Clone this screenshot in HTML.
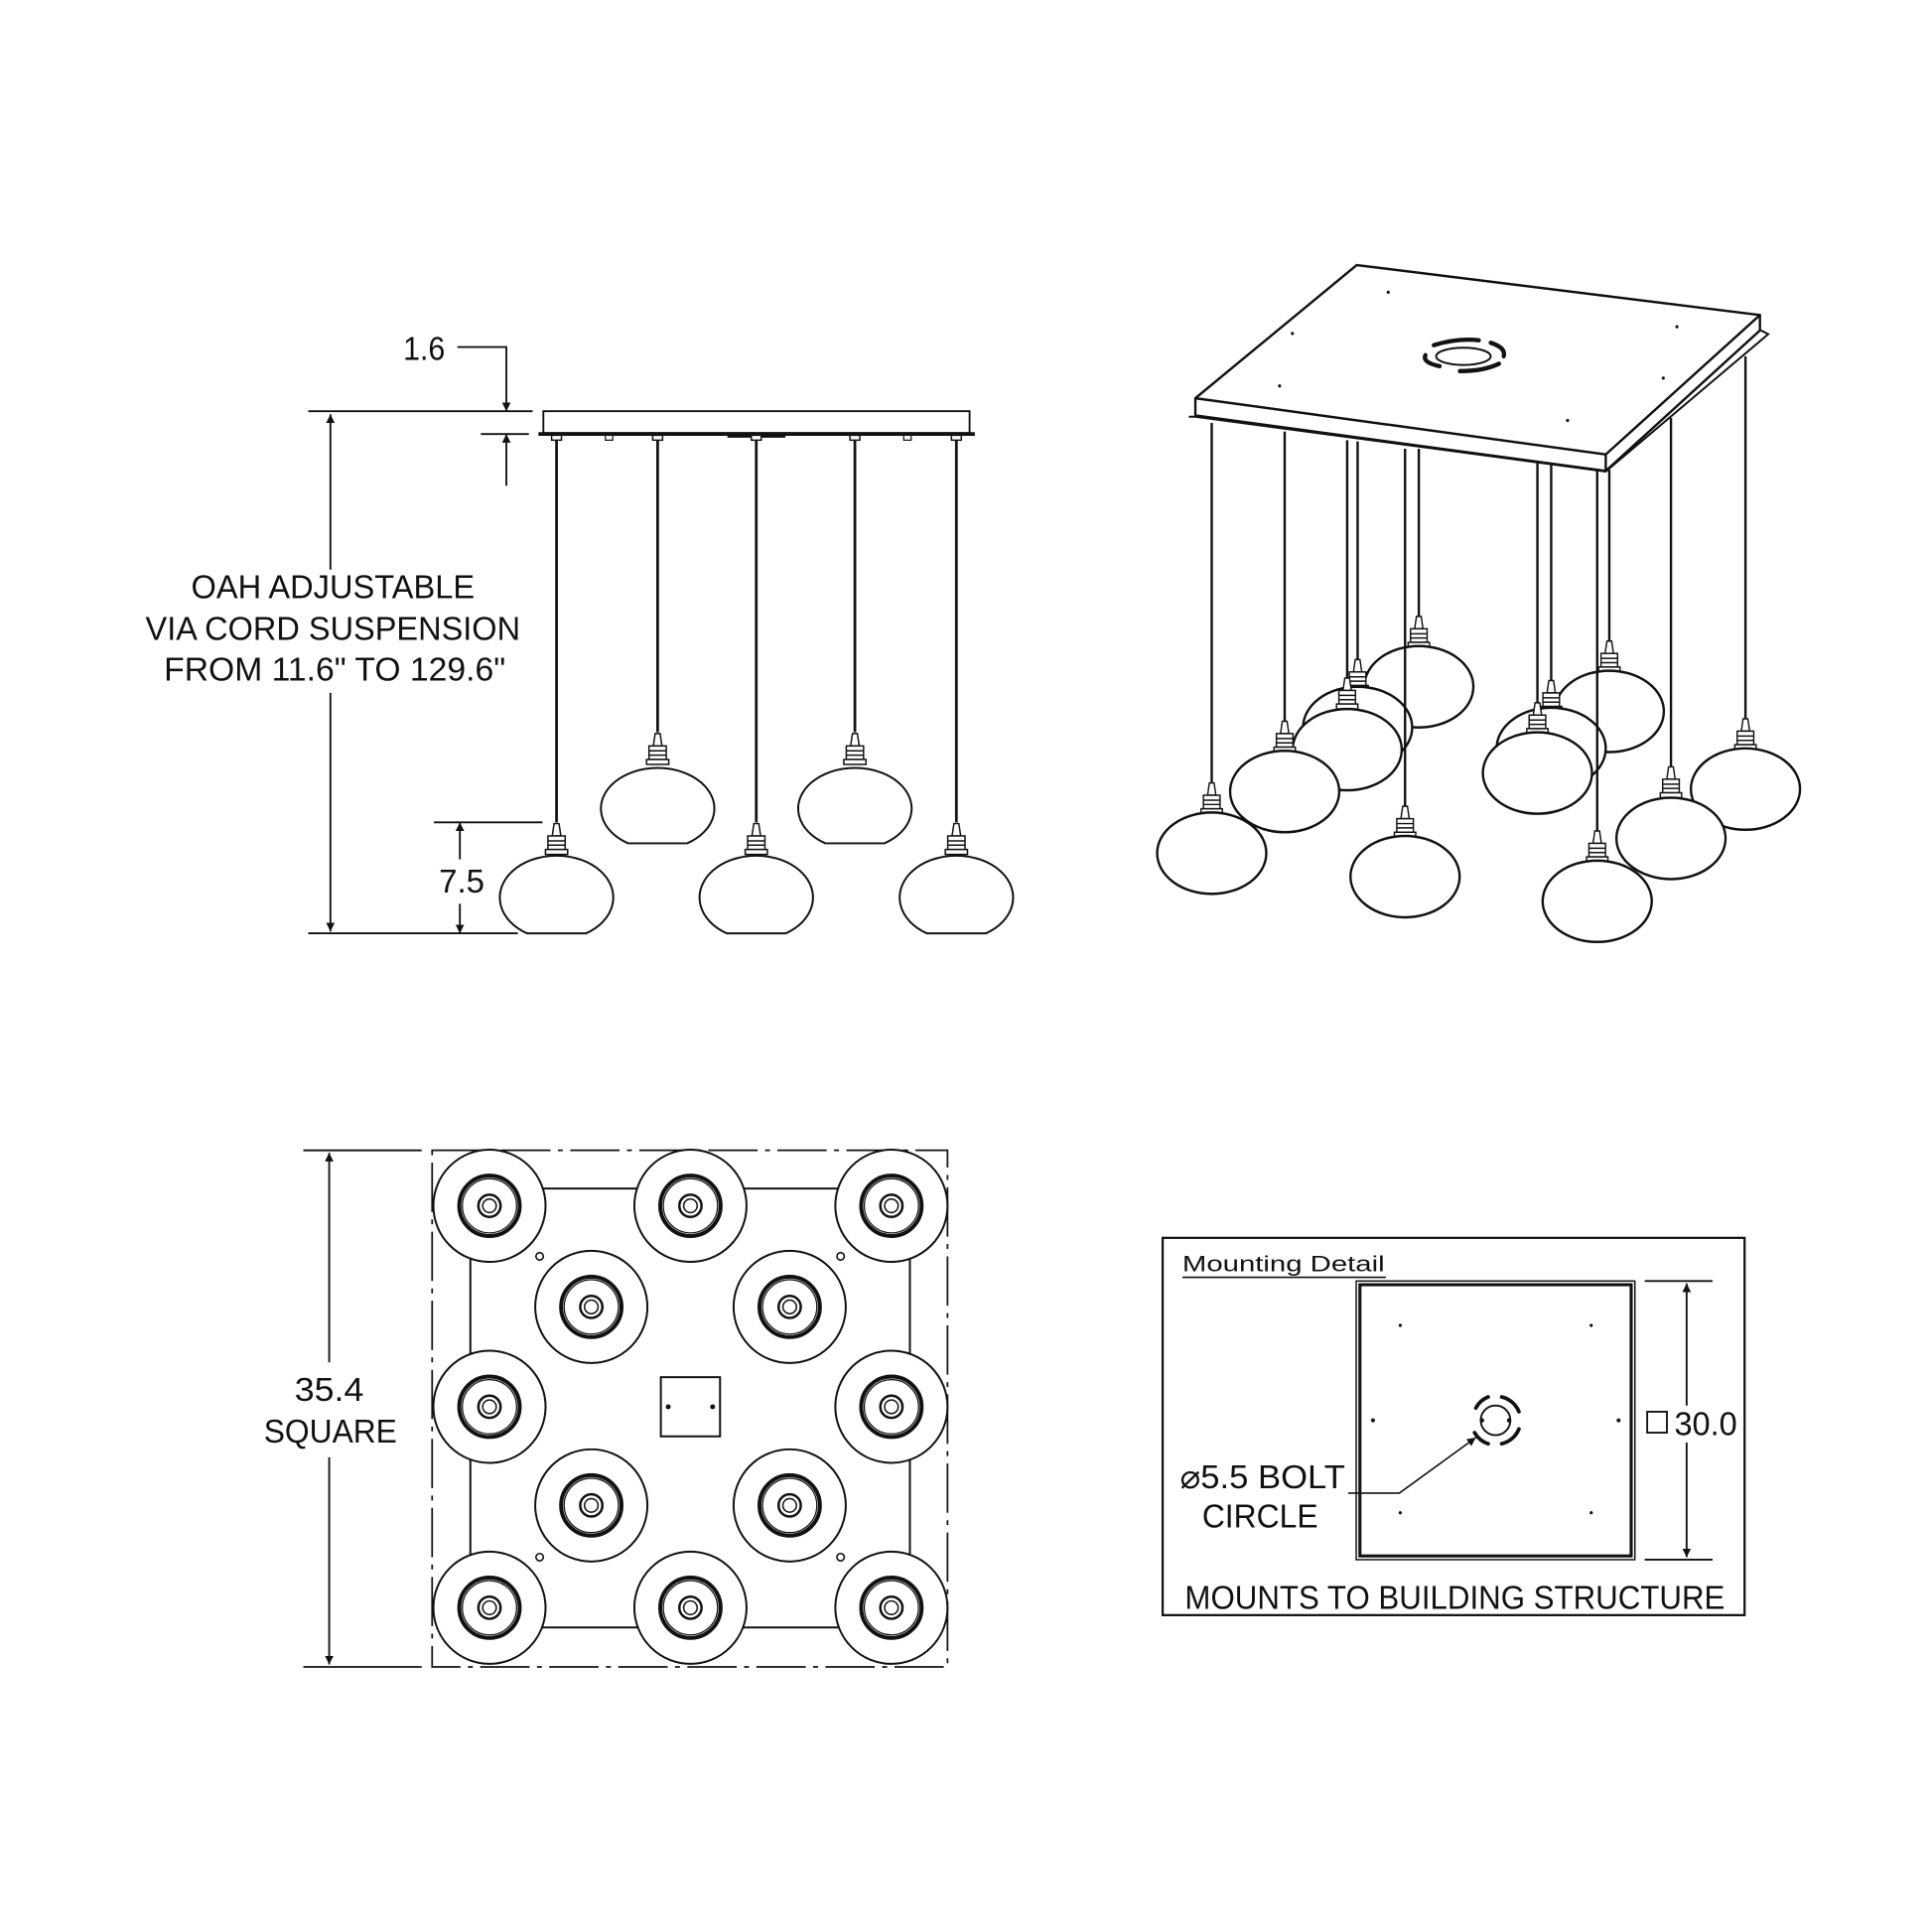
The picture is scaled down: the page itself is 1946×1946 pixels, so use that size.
<!DOCTYPE html>
<html><head><meta charset="utf-8"><style>html,body{margin:0;padding:0;background:#fff}svg{display:block}</style></head>
<body>
<svg width="1946" height="1946" viewBox="0 0 1567 1567" xmlns="http://www.w3.org/2000/svg" font-family="'Liberation Sans', sans-serif" fill="none" stroke="#111" stroke-width="1.5">
<defs>
<g id="sk" stroke="#111" stroke-width="1.2" fill="#fff">
<path d="M-2,0 L2,0 L3.5,10 L-3.5,10Z"/>
<rect x="-7" y="10" width="14" height="11"/>
<line x1="-7" y1="14" x2="7" y2="14"/><line x1="-7" y1="17.5" x2="7" y2="17.5"/>
<rect x="-9" y="21" width="18" height="4"/>
</g>
<marker id="ah" viewBox="0 0 10 10" refX="10" refY="5" markerWidth="7" markerHeight="14" orient="auto-start-reverse" markerUnits="userSpaceOnUse"><path d="M0,0 L10,5 L0,10Z" fill="#111" stroke="none"/></marker>
</defs>
<rect x="0" y="0" width="1567" height="1567" fill="#fff" stroke="none"/>

<!-- ===== Side view ===== -->
<g font-size="27" fill="#111" stroke="none">
<text x="327" y="292" textLength="34" lengthAdjust="spacingAndGlyphs">1.6</text>
<text x="155" y="485" textLength="230" lengthAdjust="spacingAndGlyphs">OAH ADJUSTABLE</text>
<text x="118" y="519" textLength="304" lengthAdjust="spacingAndGlyphs">VIA CORD SUSPENSION</text>
<text x="133" y="552" textLength="277" lengthAdjust="spacingAndGlyphs">FROM 11.6" TO 129.6"</text>
<text x="356" y="724" textLength="37" lengthAdjust="spacingAndGlyphs">7.5</text>
</g>
<polyline points="371,281.5 410.7,281.5 410.7,333.5" marker-end="url(#ah)"/>
<line x1="410.7" y1="394" x2="410.7" y2="352" marker-end="url(#ah)"/>
<line x1="250" y1="333.5" x2="432" y2="333.5"/>
<line x1="390" y1="352" x2="429" y2="352"/>
<line x1="268" y1="336" x2="268" y2="462" marker-start="url(#ah)"/>
<line x1="268" y1="562" x2="268" y2="755.5" marker-end="url(#ah)"/>
<line x1="250" y1="757" x2="420" y2="757"/>
<line x1="352" y1="667" x2="440" y2="667"/>
<line x1="373" y1="697" x2="373" y2="667" marker-end="url(#ah)"/>
<line x1="373" y1="733" x2="373" y2="757" marker-end="url(#ah)"/>
<rect x="440.7" y="333.5" width="345.7" height="17.7" fill="#fff"/>
<line x1="436.7" y1="352" x2="790.7" y2="352" stroke-width="3"/>
<rect x="491" y="353" width="6" height="4" stroke-width="1"/>
<rect x="733" y="353" width="6" height="4" stroke-width="1"/>
<line x1="590" y1="354" x2="637" y2="354" stroke-width="2"/>
<g stroke-width="2.2">
<line x1="451.4" y1="353" x2="451.4" y2="667"/>
<line x1="533.4" y1="353" x2="533.4" y2="594"/>
<line x1="613.4" y1="353" x2="613.4" y2="667"/>
<line x1="693.4" y1="353" x2="693.4" y2="594"/>
<line x1="775.7" y1="353" x2="775.7" y2="667"/>
</g>
<g stroke-width="1.2" fill="#fff">
<rect x="447.4" y="353" width="8" height="4"/><rect x="529.4" y="353" width="8" height="4"/><rect x="609.4" y="353" width="8" height="4"/><rect x="689.4" y="353" width="8" height="4"/><rect x="771.7" y="353" width="8" height="4"/>
</g>
<use href="#sk" x="451.4" y="668"/><use href="#sk" x="613.4" y="668"/><use href="#sk" x="775.7" y="668"/>
<use href="#sk" x="533.4" y="595"/><use href="#sk" x="693.4" y="595"/>
<g stroke-width="1.6">
<path d="M427.4,757 A46,34 0 1 1 475.4,757 Z"/>
<path d="M589.4,757 A46,34 0 1 1 637.4,757 Z"/>
<path d="M751.7,757 A46,34 0 1 1 799.7,757 Z"/>
<path d="M509.4,684 A46,33 0 1 1 557.4,684 Z"/>
<path d="M669.4,684 A46,33 0 1 1 717.4,684 Z"/>
</g>

<!-- ===== Iso view ===== -->
<g transform="translate(983,0) scale(0.962,1) translate(-983,0)">
<polyline points="963.5,338 969,338 1315,382.5 1452,271 1446,268" stroke-width="1.6"/>
<path d="M969,323 L1105,215 L1445,255.5 L1445,268 L1315,382 L969,337 Z" fill="#fff" stroke-width="2"/>
<polyline points="969,323 1315,368.6 1445,255.5" stroke-width="2"/>
<line x1="1315" y1="368.6" x2="1315" y2="382" stroke-width="2"/>
<g fill="#111" stroke="none">
<circle cx="1131.6" cy="237" r="1.3"/><circle cx="1050.8" cy="270.5" r="1.3"/><circle cx="1040" cy="313" r="1.3"/>
<circle cx="1375" cy="265" r="1.3"/><circle cx="1363.5" cy="306.7" r="1.3"/><circle cx="1282.8" cy="341" r="1.3"/>
</g>
<ellipse cx="1195" cy="289" rx="23" ry="7" stroke-width="1.6"/>
<g stroke-width="3.5" stroke-linecap="round">
<path d="M1170,280 Q1190,274 1208,276"/>
<path d="M1218,278 Q1231,282 1229,289"/>
<path d="M1163,288 Q1160,294 1175,297"/>
<path d="M1192,301 Q1212,301 1225,295"/>
</g>
<g stroke-width="2">
<line x1="1157.4" y1="364" x2="1157.4" y2="500"/><use href="#sk" x="1157.4" y="500"/><ellipse cx="1157.4" cy="557" rx="46" ry="33" fill="#fff"/>
<line x1="1318" y1="381" x2="1318" y2="520"/><use href="#sk" x="1318" y="520"/><ellipse cx="1318" cy="577" rx="46" ry="33" fill="#fff"/>
<line x1="1105.8" y1="358" x2="1105.8" y2="535"/><use href="#sk" x="1105.8" y="535"/><ellipse cx="1105.8" cy="590" rx="46" ry="33" fill="#fff"/>
<line x1="1269" y1="376" x2="1269" y2="552"/><use href="#sk" x="1269" y="552"/><ellipse cx="1269" cy="607" rx="46" ry="33" fill="#fff"/>
<line x1="1097" y1="357" x2="1097" y2="550"/><use href="#sk" x="1097" y="550"/><ellipse cx="1097" cy="608" rx="46" ry="33" fill="#fff"/>
<line x1="1257.4" y1="375" x2="1257.4" y2="570"/><use href="#sk" x="1257.4" y="570"/><ellipse cx="1257.4" cy="627" rx="46" ry="33" fill="#fff"/>
<line x1="1432.8" y1="289" x2="1432.8" y2="583"/><use href="#sk" x="1432.8" y="583"/><ellipse cx="1432.8" cy="640" rx="46" ry="33" fill="#fff"/>
<line x1="1044.3" y1="350" x2="1044.3" y2="585"/><use href="#sk" x="1044.3" y="585"/><ellipse cx="1044.3" cy="642" rx="46" ry="33" fill="#fff"/>
<line x1="1370" y1="339" x2="1370" y2="622"/><use href="#sk" x="1370" y="622"/><ellipse cx="1370" cy="680" rx="46" ry="33" fill="#fff"/>
<line x1="982.8" y1="343" x2="982.8" y2="635"/><use href="#sk" x="982.8" y="635"/><ellipse cx="982.8" cy="692" rx="46" ry="33" fill="#fff"/>
<line x1="1145.8" y1="364" x2="1145.8" y2="654"/><use href="#sk" x="1145.8" y="654"/><ellipse cx="1145.8" cy="711" rx="46" ry="33" fill="#fff"/>
<line x1="1307.8" y1="381" x2="1307.8" y2="674"/><use href="#sk" x="1307.8" y="674"/><ellipse cx="1307.8" cy="731" rx="46" ry="33" fill="#fff"/>
</g>
</g>

<!-- ===== Plan view ===== -->
<rect x="350.5" y="933" width="418" height="419" stroke-width="1.4" stroke-dasharray="40,6,4,6"/>
<rect x="381.5" y="964" width="356.5" height="356" stroke-width="1.6"/>
<g fill="#111" stroke="none" font-size="27">
<text x="267" y="1136" text-anchor="middle" textLength="56" lengthAdjust="spacingAndGlyphs">35.4</text>
<text x="268" y="1170" text-anchor="middle" textLength="108" lengthAdjust="spacingAndGlyphs">SQUARE</text>
</g>
<line x1="246" y1="933" x2="342" y2="933"/>
<line x1="246" y1="1352" x2="342" y2="1352"/>
<line x1="267" y1="935" x2="267" y2="1105" marker-start="url(#ah)"/>
<line x1="267" y1="1182" x2="267" y2="1350" marker-end="url(#ah)"/>
<g stroke-width="1.3">
<circle cx="437.7" cy="1019" r="3"/><circle cx="681.8" cy="1019" r="3"/><circle cx="437.7" cy="1263" r="3"/><circle cx="681.8" cy="1263" r="3"/>
</g>
<rect x="536" y="1117" width="48" height="48" stroke-width="1.6" fill="#fff"/>
<circle cx="542" cy="1141" r="2" fill="#111" stroke="none"/><circle cx="578" cy="1141" r="2" fill="#111" stroke="none"/>
<g stroke-width="1.6">
<g transform="translate(397,978)"><circle r="45.5" fill="#fff"/><circle r="24.5" stroke-width="3.2"/><circle r="22" stroke-width="1"/><circle r="9" stroke-width="2"/><circle r="5.5" stroke-width="1.2"/></g>
<g transform="translate(560,978)"><circle r="45.5" fill="#fff"/><circle r="24.5" stroke-width="3.2"/><circle r="22" stroke-width="1"/><circle r="9" stroke-width="2"/><circle r="5.5" stroke-width="1.2"/></g>
<g transform="translate(723,978)"><circle r="45.5" fill="#fff"/><circle r="24.5" stroke-width="3.2"/><circle r="22" stroke-width="1"/><circle r="9" stroke-width="2"/><circle r="5.5" stroke-width="1.2"/></g>
<g transform="translate(479.6,1060)"><circle r="45.5" fill="#fff"/><circle r="24.5" stroke-width="3.2"/><circle r="22" stroke-width="1"/><circle r="9" stroke-width="2"/><circle r="5.5" stroke-width="1.2"/></g>
<g transform="translate(640.5,1060)"><circle r="45.5" fill="#fff"/><circle r="24.5" stroke-width="3.2"/><circle r="22" stroke-width="1"/><circle r="9" stroke-width="2"/><circle r="5.5" stroke-width="1.2"/></g>
<g transform="translate(397,1141)"><circle r="45.5" fill="#fff"/><circle r="24.5" stroke-width="3.2"/><circle r="22" stroke-width="1"/><circle r="9" stroke-width="2"/><circle r="5.5" stroke-width="1.2"/></g>
<g transform="translate(723,1141)"><circle r="45.5" fill="#fff"/><circle r="24.5" stroke-width="3.2"/><circle r="22" stroke-width="1"/><circle r="9" stroke-width="2"/><circle r="5.5" stroke-width="1.2"/></g>
<g transform="translate(479.6,1221)"><circle r="45.5" fill="#fff"/><circle r="24.5" stroke-width="3.2"/><circle r="22" stroke-width="1"/><circle r="9" stroke-width="2"/><circle r="5.5" stroke-width="1.2"/></g>
<g transform="translate(640.5,1221)"><circle r="45.5" fill="#fff"/><circle r="24.5" stroke-width="3.2"/><circle r="22" stroke-width="1"/><circle r="9" stroke-width="2"/><circle r="5.5" stroke-width="1.2"/></g>
<g transform="translate(397,1304)"><circle r="45.5" fill="#fff"/><circle r="24.5" stroke-width="3.2"/><circle r="22" stroke-width="1"/><circle r="9" stroke-width="2"/><circle r="5.5" stroke-width="1.2"/></g>
<g transform="translate(560,1304)"><circle r="45.5" fill="#fff"/><circle r="24.5" stroke-width="3.2"/><circle r="22" stroke-width="1"/><circle r="9" stroke-width="2"/><circle r="5.5" stroke-width="1.2"/></g>
<g transform="translate(723,1304)"><circle r="45.5" fill="#fff"/><circle r="24.5" stroke-width="3.2"/><circle r="22" stroke-width="1"/><circle r="9" stroke-width="2"/><circle r="5.5" stroke-width="1.2"/></g>
</g>

<!-- ===== Mounting detail ===== -->
<rect x="943" y="1004" width="472" height="306" stroke-width="1.8"/>
<g fill="#111" stroke="none">
<text x="959" y="1031" font-size="18" textLength="164" lengthAdjust="spacingAndGlyphs">Mounting  Detail</text>
<text x="957" y="1207" font-size="27" textLength="134" lengthAdjust="spacingAndGlyphs">⌀5.5 BOLT</text>
<text x="975" y="1239" font-size="27" textLength="94" lengthAdjust="spacingAndGlyphs">CIRCLE</text>
<text x="1358" y="1164" font-size="27" textLength="51" lengthAdjust="spacingAndGlyphs">30.0</text>
<text x="961" y="1305" font-size="27" textLength="438" lengthAdjust="spacingAndGlyphs">MOUNTS TO BUILDING STRUCTURE</text>
</g>
<line x1="959" y1="1036" x2="1124" y2="1036" stroke-width="1.3"/>
<rect x="1336" y="1145" width="16" height="17" stroke-width="1.5"/>
<rect x="1100" y="1039" width="226" height="226" stroke-width="1.2"/>
<rect x="1103" y="1042" width="220" height="220" stroke-width="2.5"/>
<g fill="#111" stroke="none">
<circle cx="1135.7" cy="1075" r="1.3"/><circle cx="1290.6" cy="1075" r="1.3"/>
<circle cx="1113.6" cy="1152" r="1.6"/><circle cx="1312.8" cy="1152" r="1.6"/>
<circle cx="1135.7" cy="1227" r="1.3"/><circle cx="1290.6" cy="1227" r="1.3"/>
<circle cx="1202" cy="1152" r="1.8"/><circle cx="1224" cy="1152" r="1.8"/>
</g>
<circle cx="1213" cy="1152" r="12" stroke-width="1.5"/>
<g stroke-width="3" stroke-linecap="round">
<path d="M1197,1142 A20,20 0 0 1 1207,1133"/>
<path d="M1218,1133 A20,20 0 0 1 1232,1145"/>
<path d="M1232,1159 A20,20 0 0 1 1218,1171"/>
<path d="M1207,1171 A20,20 0 0 1 1196,1162"/>
</g>
<polyline points="1093.5,1211 1135,1211 1197,1166" stroke-width="1.3" marker-end="url(#ah)"/>
<line x1="1334" y1="1039" x2="1389" y2="1039"/>
<line x1="1334" y1="1265" x2="1389" y2="1265"/>
<line x1="1368" y1="1041" x2="1368" y2="1140" marker-start="url(#ah)"/>
<line x1="1368" y1="1170" x2="1368" y2="1263" marker-end="url(#ah)"/>
</svg>
</body></html>
